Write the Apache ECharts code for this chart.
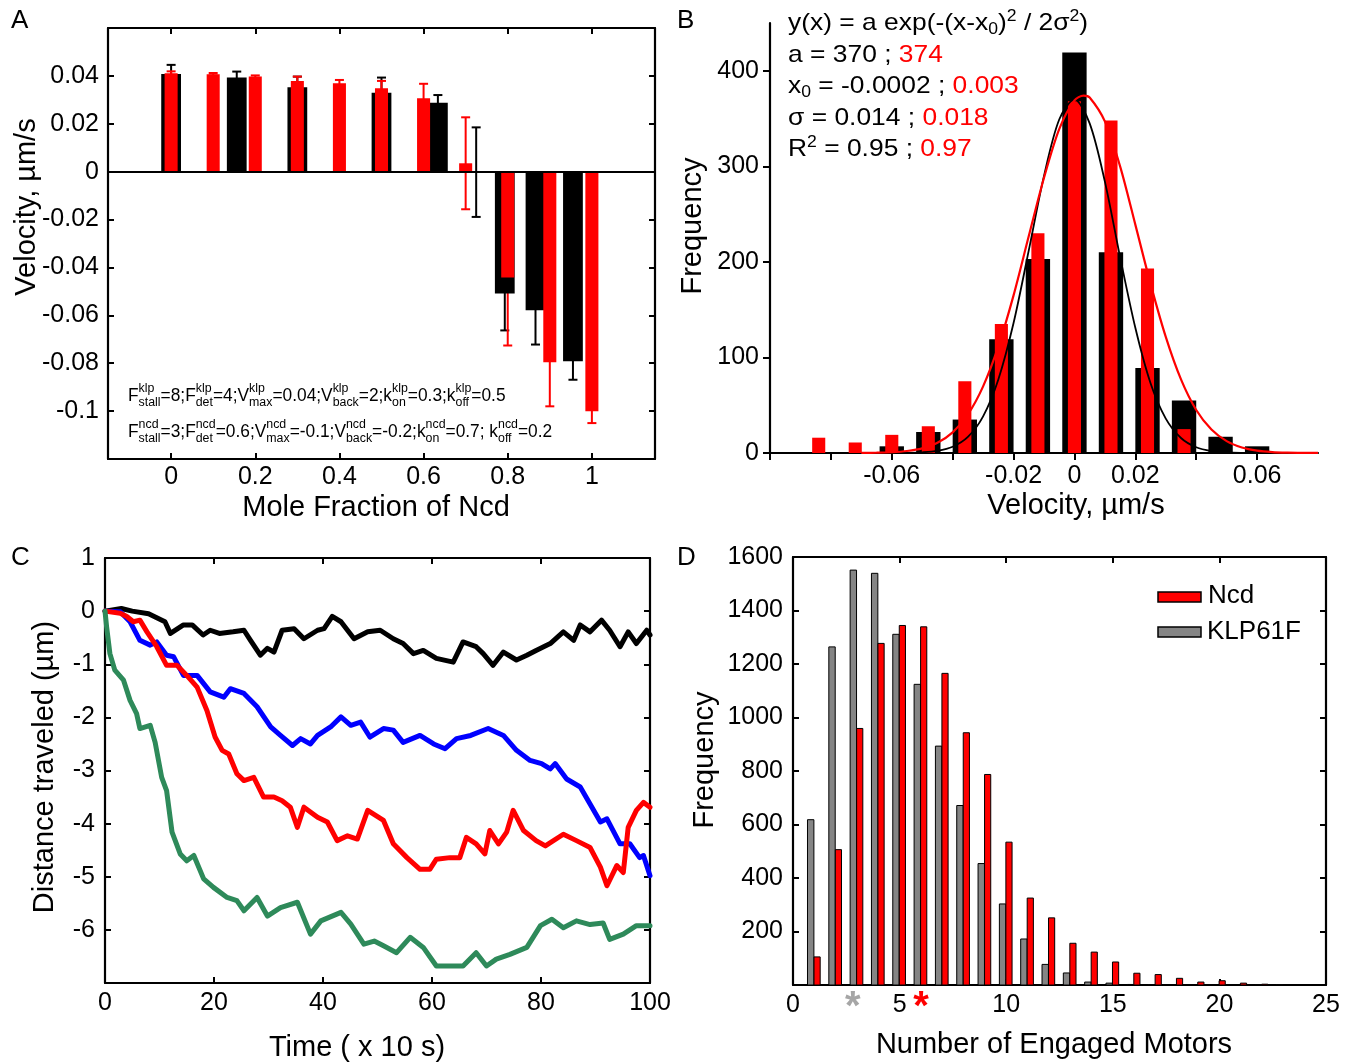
<!DOCTYPE html>
<html>
<head>
<meta charset="utf-8">
<script src="https://cdn.jsdelivr.net/npm/echarts@6.0.0/dist/echarts.min.js"></script>
<style>
html,body{margin:0;padding:0;background:#fff;}
#chart{width:1354px;height:1063px;}
</style>
</head>
<body>
<div id="chart"></div>
<script>
// ===================== DATA =====================
// Panel A: velocity vs mole fraction of Ncd
const aRedX   = [0, 0.1, 0.2, 0.3, 0.4, 0.5, 0.6, 0.7, 0.8, 0.9, 1.0];
const aRedV   = [0.0411, 0.0407, 0.0397, 0.0379, 0.0369, 0.0348, 0.0307, 0.0035, -0.0442, -0.0796, -0.1001];
const aRedErr = [0.0008, 0.0005, 0.0005, 0.0018, 0.0014, 0.0031, 0.0060, 0.0192, 0.0284, 0.0184, 0.0049];
const aBlackX   = [0, 0.156, 0.3, 0.5, 0.634, 0.725, 0.793, 0.866, 0.955];
const aBlackV   = [0.0408, 0.0393, 0.0353, 0.0330, 0.0288, -0.0002, -0.0509, -0.0579, -0.0792];
const aBlackErr = [0.0038, 0.0025, 0.0044, 0.0063, 0.0032, 0.0187, 0.0154, 0.0143, 0.0077];
const aXTicks = [0, 0.2, 0.4, 0.6, 0.8, 1];
const aYTicks = [-0.1, -0.08, -0.06, -0.04, -0.02, 0, 0.02, 0.04];

// Panel B: velocity histogram with Gaussian fits
const bBins  = [-0.084, -0.072, -0.06, -0.048, -0.036, -0.024, -0.012, 0, 0.012, 0.024, 0.036, 0.048, 0.06];
const bBlack = [0, 0, 7, 22, 35, 119, 203, 419, 210, 89, 55, 17, 7];
const bRed   = [16, 11, 19, 28, 75, 135, 230, 368, 348, 193, 25, 0, 0];
const bFitBlackX = [-0.065, -0.06, -0.055, -0.05, -0.045, -0.04, -0.035, -0.03, -0.025, -0.02, -0.015, -0.01, -0.005, 0, 0.005, 0.01, 0.015, 0.02, 0.025, 0.03, 0.035, 0.04, 0.045, 0.05, 0.055, 0.06, 0.065];
const bFitBlackY = [0, 0.04, 0.2, 0.7, 2.2, 6.5, 16.8, 38.4, 77, 136, 212, 290, 349, 370, 345, 284, 205, 131, 73, 36, 15.7, 6, 2, 0.6, 0.15, 0.04, 0];
const bFitRedX = [-0.07, -0.065, -0.06, -0.055, -0.05, -0.045, -0.04, -0.035, -0.03, -0.025, -0.02, -0.015, -0.01, -0.005, 0, 0.003, 0.005, 0.01, 0.015, 0.02, 0.025, 0.03, 0.035, 0.04, 0.045, 0.05, 0.055, 0.06, 0.065, 0.07, 0.075, 0.08];
const bFitRedY = [0.1, 0.3, 0.8, 2.1, 4.9, 10.7, 21.6, 40.3, 69.7, 111.5, 165, 227, 288, 339, 369, 374, 372, 347, 300, 239, 177, 121.5, 77, 45, 24.6, 12.4, 5.8, 2.5, 1.0, 0.4, 0.15, 0.05];
const bXTicks  = [-0.1, -0.08, -0.06, -0.04, -0.02, 0, 0.02, 0.04, 0.06];
const bXLabels = [-0.06, -0.02, 0, 0.02, 0.06];
const bYTicks  = [0, 100, 200, 300, 400];

// Panel C: distance traveled traces
const cBlackT = [0, 3, 5, 8, 11, 12, 14.4, 16, 18, 19.3, 21, 23.5, 25.5, 26.7, 28.5, 29.8, 31, 32.5, 34.7, 36.5, 39, 40.2, 41.7, 43.3, 45.7, 48.2, 50.5, 52.9, 54.7, 56.6, 58.4, 60.8, 63.9, 65.7, 68.1, 69.4, 71.2, 73.1, 75.5, 77.4, 79.1, 81.7, 84.1, 86, 87.2, 89, 91.1, 92.6, 94.5, 96, 97.5, 99.4, 100];
const cBlackV = [0, 0.05, 0, -0.05, -0.2, -0.42, -0.26, -0.26, -0.45, -0.36, -0.42, -0.39, -0.36, -0.55, -0.83, -0.7, -0.77, -0.36, -0.33, -0.52, -0.36, -0.33, -0.1, -0.2, -0.52, -0.39, -0.36, -0.52, -0.61, -0.8, -0.74, -0.89, -0.96, -0.58, -0.67, -0.8, -1.02, -0.77, -0.92, -0.83, -0.74, -0.61, -0.39, -0.55, -0.26, -0.39, -0.17, -0.36, -0.67, -0.39, -0.61, -0.36, -0.45];
const cBlueT = [0, 2.8, 4.6, 6.4, 8.3, 9.5, 11.3, 12.6, 14.4, 16.9, 19.3, 21.8, 23, 25.5, 27.9, 30.4, 32.2, 34.4, 35.9, 37.7, 39, 41.4, 43.3, 45.1, 46.9, 48.6, 51.1, 52.9, 54.7, 57.8, 60.3, 62.4, 64.5, 67.1, 70.3, 73.1, 75.5, 78, 80.1, 81.7, 82.6, 84.7, 87.2, 89, 90.9, 92.1, 94.5, 96.3, 98.1, 98.8, 100];
const cBlueV = [0, -0.01, -0.2, -0.55, -0.64, -0.58, -0.83, -0.86, -1.21, -1.21, -1.52, -1.62, -1.46, -1.55, -1.8, -2.18, -2.34, -2.53, -2.4, -2.5, -2.34, -2.18, -1.99, -2.15, -2.09, -2.37, -2.21, -2.24, -2.47, -2.34, -2.5, -2.59, -2.4, -2.34, -2.21, -2.34, -2.62, -2.81, -2.87, -2.97, -2.87, -3.16, -3.31, -3.63, -3.97, -3.91, -4.38, -4.38, -4.64, -4.6, -4.98];
const cRedT = [0, 2.8, 4, 5.2, 6.4, 7.7, 9.5, 11.3, 13.2, 15, 16.9, 18.7, 20.2, 21.5, 22.7, 24.2, 25.5, 27.3, 29.1, 31, 32.5, 34, 35.3, 36.5, 39, 40.8, 42.6, 44.5, 46.3, 48.2, 51.1, 52.9, 55.4, 57.8, 59.6, 60.8, 63.3, 65.1, 66.3, 68.1, 69.7, 70.6, 72.2, 73.7, 74.9, 76.8, 79.1, 80.8, 84.1, 86.5, 89, 90.9, 92.1, 93.9, 95.1, 96, 97.5, 98.8, 100];
const cRedV = [0, -0.04, -0.1, -0.2, -0.17, -0.39, -0.67, -1.02, -1.02, -1.21, -1.43, -1.87, -2.37, -2.62, -2.69, -3.06, -3.19, -3.13, -3.5, -3.5, -3.57, -3.69, -4.07, -3.69, -3.88, -3.97, -4.32, -4.23, -4.29, -3.75, -3.94, -4.38, -4.64, -4.86, -4.86, -4.67, -4.64, -4.64, -4.26, -4.38, -4.57, -4.13, -4.38, -4.16, -3.75, -4.13, -4.32, -4.42, -4.2, -4.32, -4.45, -4.82, -5.17, -4.79, -4.92, -4.07, -3.75, -3.6, -3.69];
const cGreenT = [0, 0.3, 0.9, 1.8, 3.4, 4.6, 5.8, 6.4, 8.3, 9.2, 10.4, 11.3, 12.3, 13.8, 15, 16.3, 18.1, 19.9, 22.4, 24.2, 25.5, 27.9, 29.8, 32.2, 35.3, 37.7, 39.6, 43.3, 45.1, 47.5, 49.4, 51.1, 53.5, 56, 58.4, 60.8, 63.3, 65.7, 68.1, 70, 71.8, 74.3, 77.4, 79.9, 82, 84.1, 86.5, 89, 91.4, 92.6, 95.1, 97.5, 100];
const cGreenV = [0, -0.3, -0.8, -1.11, -1.3, -1.68, -1.93, -2.21, -2.15, -2.47, -3.13, -3.38, -4.16, -4.57, -4.7, -4.6, -5.04, -5.2, -5.39, -5.45, -5.64, -5.39, -5.74, -5.58, -5.48, -6.08, -5.83, -5.67, -5.89, -6.27, -6.21, -6.3, -6.43, -6.14, -6.33, -6.68, -6.68, -6.68, -6.43, -6.68, -6.55, -6.46, -6.33, -5.92, -5.8, -5.96, -5.83, -5.9, -5.87, -6.18, -6.08, -5.92, -5.92];
const cXTicks = [0, 20, 40, 60, 80, 100];
const cYTicks = [-6, -5, -4, -3, -2, -1, 0, 1];

// Panel D: number of engaged motors
const dMotors = [1, 2, 3, 4, 5, 6, 7, 8, 9, 10, 11, 12, 13, 14, 15, 16, 17, 18, 19, 20, 21, 22, 23];
const dKlp = [618, 1264, 1551, 1539, 1311, 1124, 893, 671, 454, 303, 172, 77, 45, 11, 7, 2, 1, 0, 0, 0, 0, 1, 1];
const dNcd = [105, 506, 959, 1277, 1344, 1339, 1165, 943, 787, 534, 325, 251, 156, 123, 86, 44, 39, 25, 11, 16, 7, 3, 0];
const dXTicks = [0, 5, 10, 15, 20, 25];
const dXLabels = [0, 2.8, 5, 6, 10, 15, 20, 25];
const dMeanKlp = 2.8, dMeanNcd = 6;
const dYTicks = [200, 400, 600, 800, 1000, 1200, 1400, 1600];

// ===================== HELPERS =====================
const FONT = '"Liberation Sans", Arial, Helvetica, sans-serif';
const mctx = document.createElement('canvas').getContext('2d');
function tw(s, size) { mctx.font = size + 'px ' + FONT; return mctx.measureText(s).width; }
function fmt(v) { return String(Math.round(v * 10000) / 10000); }

function mkAxis(grid, pos, min, max, ticks, labels, ex) {
  ex = ex || {};
  const ax = {
    type: 'value', gridIndex: grid, position: pos, min: min, max: max,
    axisLine: { show: true, onZero: !!ex.onZero, lineStyle: { color: '#000', width: 2.2 } },
    axisTick: { show: !!ticks, inside: !ex.outside, length: ex.tickLen || 6, lineStyle: { color: '#000', width: 2 } },
    axisLabel: { show: !!labels, color: '#000', fontSize: 25, fontFamily: FONT, margin: ex.margin || 8, formatter: ex.formatter || fmt },
    splitLine: { show: false }
  };
  if (ticks) ax.axisTick.customValues = ticks;
  if (labels) ax.axisLabel.customValues = labels;
  if (ex.rich) ax.axisLabel.rich = ex.rich;
  if (ex.z !== undefined) ax.z = ex.z;
  return ax;
}

function barRender(width, offset, color, stroke) {
  return function (params, api) {
    const x = api.value(0) + offset, v = api.value(1);
    const a = api.coord([x - width / 2, 0]);
    const b = api.coord([x + width / 2, v]);
    return {
      type: 'rect',
      shape: { x: Math.min(a[0], b[0]), y: Math.min(a[1], b[1]), width: Math.abs(b[0] - a[0]), height: Math.abs(b[1] - a[1]) },
      style: { fill: color, stroke: stroke || null, lineWidth: stroke ? 1 : 0 }
    };
  };
}
function errRender(color, cap) {
  return function (params, api) {
    const x = api.value(0), v = api.value(1), e = api.value(2);
    const t = api.coord([x, v + e]), b = api.coord([x, v - e]);
    const st = { stroke: color, lineWidth: 2 };
    return { type: 'group', children: [
      { type: 'line', shape: { x1: t[0], y1: t[1], x2: b[0], y2: b[1] }, style: st },
      { type: 'line', shape: { x1: t[0] - cap, y1: t[1], x2: t[0] + cap, y2: t[1] }, style: st },
      { type: 'line', shape: { x1: b[0] - cap, y1: b[1], x2: b[0] + cap, y2: b[1] }, style: st }
    ] };
  };
}

function txt(x, y, s, size, col, o) {
  o = o || {};
  const el = { type: 'text', x: x, y: y, z: 100, silent: true,
    style: { text: s, fontSize: size, fontFamily: FONT, fill: col || '#000', align: o.align || 'left', verticalAlign: 'middle' } };
  if (o.rot) el.rotation = o.rot;
  if (o.sx) el.scaleX = o.sx;
  return el;
}
// segments: {n:'text'} normal, {p:'sup', b:'sub'} stacked scripts; optional c colour
function mathLine(x, y, segs, size, sub, sx, supDy, subDy) {
  const els = [];
  let cx = x;
  segs.forEach(function (sg) {
    const col = sg.c || '#000';
    if (sg.n !== undefined) {
      els.push(txt(cx, y, sg.n, size, col, { sx: sx }));
      cx += tw(sg.n, size) * sx;
    } else {
      let w = 0;
      if (sg.p) { els.push(txt(cx, y + supDy, sg.p, sub, col, { sx: sx })); w = Math.max(w, tw(sg.p, sub)); }
      if (sg.b) { els.push(txt(cx, y + subDy, sg.b, sub, col, { sx: sx })); w = Math.max(w, tw(sg.b, sub)); }
      cx += w * sx;
    }
  });
  return els;
}

// ===================== GRAPHIC TEXT =====================
let graphics = [];
// panel letters
graphics.push(txt(11, 21, 'A', 26), txt(677, 21, 'B', 26), txt(11, 558, 'C', 26), txt(677, 558, 'D', 26));
// axis titles
const TS = 29;
graphics.push(txt(27, 207, 'Velocity, µm/s', TS, '#000', { align: 'center', rot: Math.PI / 2 }));
graphics.push(txt(376, 508, 'Mole Fraction of Ncd', TS, '#000', { align: 'center' }));
graphics.push(txt(693, 226, 'Frequency', TS, '#000', { align: 'center', rot: Math.PI / 2 }));
graphics.push(txt(1076, 506, 'Velocity, µm/s', TS, '#000', { align: 'center' }));
graphics.push(txt(45, 767, 'Distance traveled (µm)', TS, '#000', { align: 'center', rot: Math.PI / 2 }));
graphics.push(txt(357, 1048, 'Time ( x 10 s)', TS, '#000', { align: 'center' }));
graphics.push(txt(705, 760, 'Frequency', TS, '#000', { align: 'center', rot: Math.PI / 2 }));
graphics.push(txt(1054, 1045, 'Number of Engaged Motors', TS, '#000', { align: 'center' }));

// Panel A parameter annotation
const aLine1 = [
  { n: 'F' }, { p: 'klp', b: 'stall' }, { n: '=8;F' }, { p: 'klp', b: 'det' }, { n: '=4;V' }, { p: 'klp', b: 'max' },
  { n: '=0.04;V' }, { p: 'klp', b: 'back' }, { n: '=2;k' }, { p: 'klp', b: 'on' }, { n: '=0.3;k' }, { p: 'klp', b: 'off' }, { n: '=0.5' }
];
const aLine2 = [
  { n: 'F' }, { p: 'ncd', b: 'stall' }, { n: '=3;F' }, { p: 'ncd', b: 'det' }, { n: '=0.6;V' }, { p: 'ncd', b: 'max' },
  { n: '=-0.1;V' }, { p: 'ncd', b: 'back' }, { n: '=-0.2;k' }, { p: 'ncd', b: 'on' }, { n: '=0.7; k' }, { p: 'ncd', b: 'off' }, { n: '=0.2' }
];
graphics = graphics.concat(mathLine(128, 396, aLine1, 17.5, 12.5, 0.99, -7, 7));
graphics = graphics.concat(mathLine(128, 432, aLine2, 17.5, 12.5, 0.99, -7, 7));

// Panel B fit annotation
const RED = '#ff0000';
const bL = [
  [{ n: 'y(x) = a exp(-(x-x' }, { b: '0' }, { n: ')' }, { p: '2' }, { n: ' / 2σ' }, { p: '2' }, { n: ')' }],
  [{ n: 'a = 370 ; ' }, { n: '374', c: RED }],
  [{ n: 'x' }, { b: '0' }, { n: ' = -0.0002 ; ' }, { n: '0.003', c: RED }],
  [{ n: 'σ = 0.014 ; ' }, { n: '0.018', c: RED }],
  [{ n: 'R' }, { p: '2' }, { n: ' = 0.95 ; ' }, { n: '0.97', c: RED }]
];
const bLy = [23, 55, 86, 118, 149];
bL.forEach(function (segs, i) { graphics = graphics.concat(mathLine(788, bLy[i], segs, 24, 16, 1.1, -6, 7)); });

// Panel D legend
graphics.push({ type: 'rect', z: 100, shape: { x: 1158, y: 592, width: 43, height: 10 }, style: { fill: '#ff0000', stroke: '#000', lineWidth: 1.5 } });
graphics.push({ type: 'rect', z: 100, shape: { x: 1158, y: 627, width: 43, height: 10 }, style: { fill: '#858585', stroke: '#000', lineWidth: 1.5 } });
graphics.push(txt(1208, 596, 'Ncd', 26), txt(1207, 632, 'KLP61F', 26));

// ===================== OPTION =====================
const option = {
  animation: false,
  backgroundColor: '#fff',
  textStyle: { fontFamily: FONT },
  grid: [
    { left: 108, top: 28, width: 547, height: 431 },
    { left: 770, top: 23, width: 548, height: 430 },
    { left: 105, top: 558, width: 545, height: 425 },
    { left: 793, top: 557, width: 533, height: 428 }
  ],
  xAxis: [
    mkAxis(0, 'bottom', -0.15, 1.15, aXTicks, aXTicks, { margin: 6 }),
    mkAxis(0, 'top', -0.15, 1.15, aXTicks, null),
    mkAxis(0, 'bottom', -0.15, 1.15, null, null, { onZero: true, z: 10 }),
    mkAxis(1, 'bottom', -0.1, 0.08, bXTicks, bXLabels, { outside: true, tickLen: 7, margin: 11,
      formatter: function (v) { return v === 0 ? '0' : v.toFixed(2); } }),
    mkAxis(2, 'bottom', 0, 100, cXTicks, cXTicks, { margin: 8 }),
    mkAxis(2, 'top', 0, 100, cXTicks, null),
    mkAxis(3, 'bottom', 0, 25, dXTicks, dXLabels, { margin: 8,
      formatter: function (v) {
        if (Math.abs(v - dMeanKlp) < 1e-9) return '{g|*}';
        if (Math.abs(v - dMeanNcd) < 1e-9) return '{r|*}';
        return String(v);
      },
      rich: {
        g: { color: '#a6a6a6', fontSize: 40, fontWeight: 'bold', fontFamily: FONT, lineHeight: 30 },
        r: { color: '#ff0000', fontSize: 40, fontWeight: 'bold', fontFamily: FONT, lineHeight: 30 }
      } }),
    mkAxis(3, 'top', 0, 25, dXTicks, null)
  ],
  yAxis: [
    mkAxis(0, 'left', -0.12, 0.06, aYTicks, aYTicks, { margin: 9 }),
    mkAxis(0, 'right', -0.12, 0.06, aYTicks, null),
    mkAxis(1, 'left', 0, 450, bYTicks, bYTicks, { outside: true, tickLen: 7, margin: 11 }),
    mkAxis(2, 'left', -7, 1, cYTicks, cYTicks, { margin: 10 }),
    mkAxis(2, 'right', -7, 1, cYTicks, null),
    mkAxis(3, 'left', 0, 1600, dYTicks, dYTicks, { margin: 10 }),
    mkAxis(3, 'right', 0, 1600, dYTicks, null)
  ],
  series: [
    // ---- A ----
    { type: 'custom', name: 'A black err', xAxisIndex: 0, yAxisIndex: 0, z: 1, clip: true,
      renderItem: errRender('#000', 4.5), data: aBlackX.map(function (x, i) { return [x, aBlackV[i], aBlackErr[i]]; }) },
    { type: 'custom', name: 'A red err', xAxisIndex: 0, yAxisIndex: 0, z: 1, clip: true,
      renderItem: errRender('#ff0000', 4.5), data: aRedX.map(function (x, i) { return [x, aRedV[i], aRedErr[i]]; }) },
    { type: 'custom', name: 'A black', xAxisIndex: 0, yAxisIndex: 0, z: 2, clip: true,
      renderItem: barRender(0.047, 0, '#000'), data: aBlackX.map(function (x, i) { return [x, aBlackV[i]]; }) },
    { type: 'custom', name: 'A red', xAxisIndex: 0, yAxisIndex: 0, z: 3, clip: true,
      renderItem: barRender(0.031, 0, '#ff0000'), data: aRedX.map(function (x, i) { return [x, aRedV[i]]; }) },
    // ---- B ----
    { type: 'custom', name: 'B black', xAxisIndex: 3, yAxisIndex: 2, z: 2, clip: true,
      renderItem: barRender(0.008, 0, '#000'), data: bBins.map(function (x, i) { return [x, bBlack[i]]; }) },
    { type: 'custom', name: 'B red', xAxisIndex: 3, yAxisIndex: 2, z: 3, clip: true,
      renderItem: barRender(0.0043, 0, '#ff0000'), data: bBins.map(function (x, i) { return [x, bRed[i]]; }) },
    { type: 'line', name: 'B black fit', xAxisIndex: 3, yAxisIndex: 2, z: 4, smooth: 0.3, showSymbol: false, symbol: 'none',
      lineStyle: { color: '#000', width: 1.8 }, data: bFitBlackX.map(function (x, i) { return [x, bFitBlackY[i]]; }) },
    { type: 'line', name: 'B red fit', xAxisIndex: 3, yAxisIndex: 2, z: 5, smooth: 0.3, showSymbol: false, symbol: 'none',
      lineStyle: { color: '#ff0000', width: 2.2 }, data: bFitRedX.map(function (x, i) { return [x, bFitRedY[i]]; }) },
    // ---- C ----
    { type: 'line', name: 'C black', xAxisIndex: 4, yAxisIndex: 3, z: 2, showSymbol: false, symbol: 'none',
      lineStyle: { color: '#000', width: 5, join: 'round', cap: 'round' }, data: cBlackT.map(function (t, i) { return [t, cBlackV[i]]; }) },
    { type: 'line', name: 'C blue', xAxisIndex: 4, yAxisIndex: 3, z: 3, showSymbol: false, symbol: 'none',
      lineStyle: { color: '#0000ff', width: 5, join: 'round', cap: 'round' }, data: cBlueT.map(function (t, i) { return [t, cBlueV[i]]; }) },
    { type: 'line', name: 'C red', xAxisIndex: 4, yAxisIndex: 3, z: 4, showSymbol: false, symbol: 'none',
      lineStyle: { color: '#ff0000', width: 5, join: 'round', cap: 'round' }, data: cRedT.map(function (t, i) { return [t, cRedV[i]]; }) },
    { type: 'line', name: 'C green', xAxisIndex: 4, yAxisIndex: 3, z: 5, showSymbol: false, symbol: 'none',
      lineStyle: { color: '#2e8a5a', width: 5, join: 'round', cap: 'round' }, data: cGreenT.map(function (t, i) { return [t, cGreenV[i]]; }) },
    // ---- D ----
    { type: 'custom', name: 'KLP61F', xAxisIndex: 6, yAxisIndex: 5, z: 2, clip: true,
      renderItem: barRender(0.3, -0.17, '#858585', '#000'), data: dMotors.map(function (m, i) { return [m, dKlp[i]]; }) },
    { type: 'custom', name: 'Ncd', xAxisIndex: 6, yAxisIndex: 5, z: 2, clip: true,
      renderItem: barRender(0.29, 0.13, '#ff0000', '#000'), data: dMotors.map(function (m, i) { return [m, dNcd[i]]; }) }
  ],
  graphic: { elements: graphics }
};

const chart = echarts.init(document.getElementById('chart'), null, { renderer: 'canvas', width: 1354, height: 1063 });
chart.setOption(option);
</script>
</body>
</html>
